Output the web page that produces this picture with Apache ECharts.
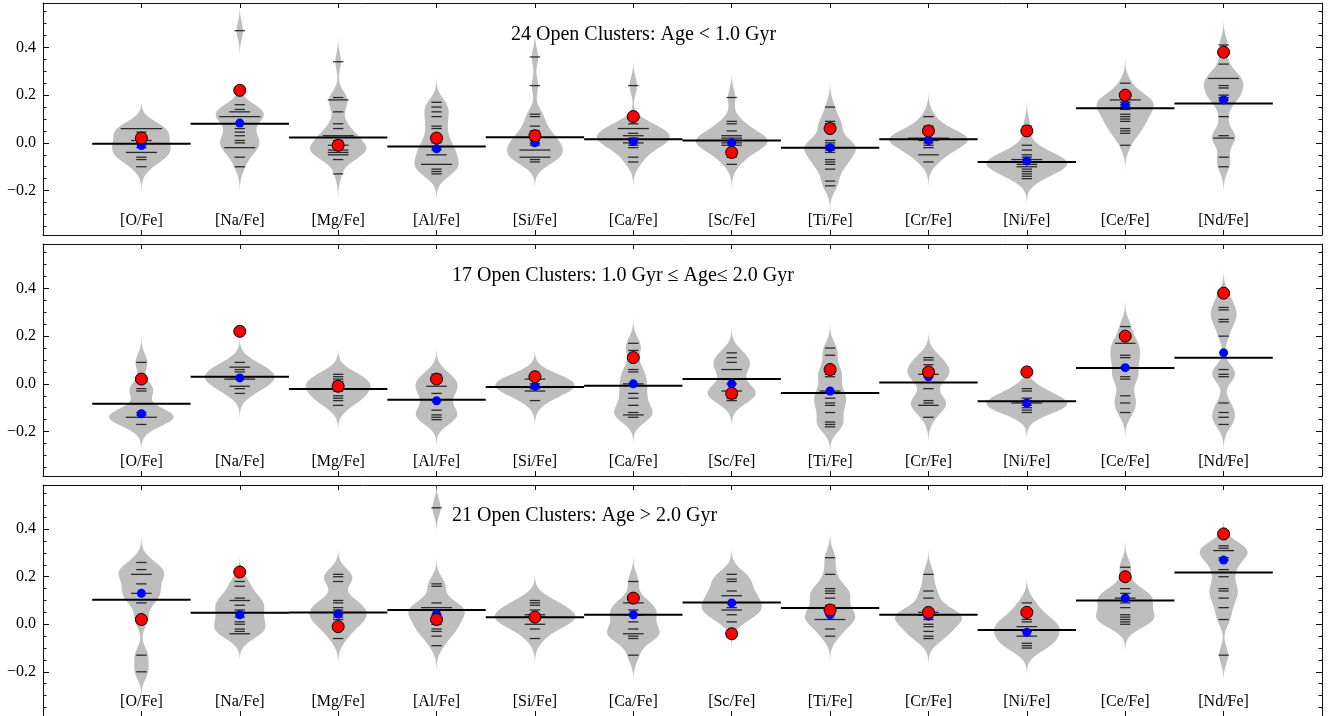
<!DOCTYPE html>
<html><head><meta charset="utf-8">
<script src="https://cdn.jsdelivr.net/npm/echarts@6/dist/echarts.min.js"></script>
<style>html,body{margin:0;padding:0;background:#fff}#c{width:1328px;height:716px}</style>
</head><body><div id="c"></div>
<script>
const categories = ['[O/Fe]','[Na/Fe]','[Mg/Fe]','[Al/Fe]','[Si/Fe]','[Ca/Fe]','[Sc/Fe]','[Ti/Fe]','[Cr/Fe]','[Ni/Fe]','[Ce/Fe]','[Nd/Fe]'];
const panelTitles = ['24 Open Clusters: Age < 1.0 Gyr','17 Open Clusters: 1.0 Gyr \u2264 Age\u2264 2.0 Gyr','21 Open Clusters: Age > 2.0 Gyr'];
const yTickLabels = [-0.2, 0.0, 0.2, 0.4];
const yMinorTicks = [-0.35,-0.3,-0.25,-0.15,-0.1,-0.05,0.05,0.1,0.15,0.25,0.3,0.35,0.45,0.5,0.55];
const referenceValues = [0.02,0.22,-0.01,0.02,0.03,0.11,-0.04,0.06,0.05,0.05,0.20,0.38];

// Age < 1.0 Gyr
const youngValues = [
  [0.06,0.06,0.06,0.06,0.045,0.01,0.01,0.0,-0.02,-0.04,-0.04,-0.04,-0.06,-0.07,-0.10],
  [0.47,0.16,0.14,0.13,0.13,0.11,0.11,0.11,0.11,0.06,0.045,0.03,0.01,0.0,-0.02,-0.02,-0.02,-0.06,-0.10],
  [0.34,0.19,0.18,0.18,0.13,0.08,0.06,0.03,0.03,0.03,0.01,-0.01,-0.01,-0.02,-0.03,-0.03,-0.04,-0.04,-0.05,-0.05,-0.07,-0.13],
  [0.17,0.15,0.13,0.11,0.07,0.06,0.02,0.0,-0.02,-0.03,-0.05,-0.05,-0.09,-0.09,-0.09,-0.11,-0.12,-0.13],
  [0.36,0.24,0.12,0.11,0.07,0.05,0.03,0.02,0.01,0.0,-0.01,-0.03,-0.03,-0.03,-0.06,-0.06,-0.06,-0.07,-0.08],
  [0.24,0.08,0.06,0.06,0.06,0.04,0.03,0.03,0.02,0.01,0.0,0.0,-0.01,-0.02,-0.06,-0.08],
  [0.19,0.09,0.08,0.05,0.03,0.03,0.02,0.02,0.01,0.0,0.0,-0.01,-0.01,-0.03,-0.04,-0.06,-0.09],
  [0.15,0.09,0.08,0.06,0.01,0.0,-0.01,-0.02,-0.02,-0.03,-0.04,-0.07,-0.08,-0.09,-0.11,-0.16,-0.18],
  [0.11,0.07,0.05,0.04,0.02,0.02,0.02,0.02,0.01,0.01,0.0,-0.01,-0.02,-0.05,-0.05,-0.08],
  [0.07,-0.01,-0.03,-0.05,-0.06,-0.07,-0.07,-0.07,-0.08,-0.08,-0.09,-0.09,-0.10,-0.10,-0.11,-0.12,-0.13,-0.14,-0.15],
  [0.25,0.21,0.18,0.18,0.18,0.17,0.16,0.15,0.14,0.12,0.11,0.10,0.09,0.06,0.05,0.04,-0.01],
  [0.41,0.33,0.27,0.27,0.27,0.24,0.23,0.20,0.19,0.18,0.11,0.03,0.02,0.02,-0.06,-0.10]
];
const youngBlue = [-0.011,0.083,-0.01,-0.025,0.0,0.005,0.0,-0.02,0.01,-0.076,0.16,0.18];
const youngMean = [-0.004,0.08,0.022,-0.015,0.024,0.015,0.01,-0.02,0.015,-0.08,0.145,0.165];

// 1.0 - 2.0 Gyr
const midValues = [
  [0.09,-0.02,-0.03,-0.12,-0.13,-0.14,-0.14,-0.14,-0.17],
  [0.09,0.07,0.07,0.06,0.05,0.03,0.03,0.02,0.02,0.02,-0.01,-0.01,-0.02,-0.04],
  [0.04,0.03,0.02,0.01,0.0,-0.01,-0.02,-0.03,-0.05,-0.06,-0.07,-0.09],
  [0.04,0.02,-0.01,-0.01,-0.04,-0.07,-0.11,-0.13,-0.14,-0.15],
  [0.03,0.02,0.02,0.0,-0.01,-0.02,-0.03,-0.03,-0.07],
  [0.17,0.14,0.06,0.05,0.0,0.0,-0.04,-0.06,-0.09,-0.12,-0.13,-0.13,-0.14],
  [0.13,0.11,0.09,0.06,0.06,0.0,-0.03,-0.03,-0.04,-0.06,-0.07],
  [0.15,0.12,0.06,0.04,0.03,-0.03,-0.03,-0.06,-0.08,-0.09,-0.12,-0.16,-0.17,-0.18],
  [0.11,0.10,0.08,0.05,0.04,0.04,0.03,-0.02,-0.07,-0.08,-0.09,-0.09,-0.14],
  [-0.02,-0.03,-0.06,-0.07,-0.08,-0.08,-0.08,-0.09,-0.10,-0.11,-0.12],
  [0.24,0.17,0.17,0.12,0.11,0.07,0.03,0.02,-0.05,-0.08,-0.12],
  [0.37,0.32,0.31,0.27,0.26,0.20,0.06,0.04,0.03,-0.08,-0.12,-0.14,-0.17]
];
const midBlue = [-0.125,0.025,-0.012,-0.071,-0.01,0.0,0.0,-0.03,0.03,-0.08,0.068,0.13];
const midMean = [-0.083,0.03,-0.022,-0.067,-0.013,-0.008,0.02,-0.038,0.006,-0.073,0.067,0.109];

// Age > 2.0 Gyr
const oldValues = [
  [0.26,0.23,0.21,0.21,0.17,0.13,0.13,0.09,0.02,-0.13,-0.20],
  [0.18,0.16,0.11,0.10,0.10,0.08,0.06,0.05,0.03,0.01,0.0,-0.02,-0.03,-0.04,-0.04],
  [0.21,0.20,0.18,0.10,0.09,0.07,0.06,0.04,0.03,0.02,0.0,-0.02,-0.06],
  [0.49,0.17,0.16,0.09,0.07,0.07,0.07,0.06,0.04,0.03,0.01,0.0,-0.02,-0.03,-0.05,-0.09],
  [0.10,0.09,0.08,0.06,0.04,0.04,0.03,0.03,0.02,0.0,0.0,-0.02,-0.06],
  [0.18,0.09,0.09,0.06,0.04,0.04,0.01,-0.02,-0.04,-0.04,-0.05,-0.06,-0.13],
  [0.21,0.19,0.18,0.14,0.12,0.12,0.09,0.07,0.06,0.06,0.04,0.01],
  [0.28,0.21,0.15,0.14,0.13,0.11,0.08,0.06,0.04,0.02,0.02,0.02,-0.02,-0.05],
  [0.21,0.14,0.11,0.05,0.05,0.04,0.04,0.03,0.02,0.0,-0.01,-0.03,-0.05,-0.06],
  [0.09,0.05,0.02,0.01,-0.01,-0.01,-0.03,-0.05,-0.05,-0.08,-0.09,-0.10],
  [0.24,0.15,0.13,0.11,0.11,0.09,0.07,0.04,0.03,0.02,0.01,0.0],
  [0.33,0.32,0.31,0.31,0.28,0.27,0.23,0.20,0.15,0.14,0.11,0.07,0.02,-0.13]
];
const oldBlue = [0.13,0.04,0.043,0.043,0.03,0.04,0.09,0.04,0.034,-0.034,0.11,0.27];
const oldMean = [0.103,0.048,0.05,0.06,0.03,0.04,0.092,0.068,0.04,-0.024,0.1,0.218];

const panels = [
  {values: youngValues, blue: youngBlue, mean: youngMean, title: panelTitles[0]},
  {values: midValues, blue: midBlue, mean: midMean, title: panelTitles[1]},
  {values: oldValues, blue: oldBlue, mean: oldMean, title: panelTitles[2]}
];

const BW = 0.035, CUT = 3, MAXHALF = 0.41, LINE_UNIT = 0.105;
const FONT = 'Liberation Serif, DejaVu Serif, serif';
const Y_MIN = -0.386, Y_MAX = 0.586;
const gridTops = [3, 244, 485], gridH = 232;

function kde(vals, y) {
  let s = 0;
  for (const v of vals) { const z = (y - v) / BW; s += Math.exp(-0.5 * z * z); }
  return s / (vals.length * BW * Math.sqrt(2 * Math.PI));
}
function beanProfile(vals) {
  const lo = Math.min(...vals) - CUT * BW, hi = Math.max(...vals) + CUT * BW;
  const N = 160, pts = [];
  for (let i = 0; i <= N; i++) { const y = lo + (hi - lo) * i / N; pts.push([y, kde(vals, y)]); }
  return pts;
}

const fmtY = v => (v < 0 ? '\u2212' : '') + Math.abs(v).toFixed(1);
const xPositions = categories.map((c, i) => i + 1);

const grid = [], xAxis = [], yAxis = [], series = [], title = [];
panels.forEach((p, g) => {
  grid.push({left: 43, right: 6, top: gridTops[g], height: gridH});
  const axLine = {show: true, onZero: false, lineStyle: {color: '#111', width: 1}};
  ['bottom', 'top'].forEach(pos => {
    xAxis.push({
      type: 'value', gridIndex: g, position: pos, min: 0, max: 13,
      axisLine: axLine, splitLine: {show: false},
      axisTick: {show: true, inside: true, length: 5, customValues: xPositions, lineStyle: {color: '#111'}},
      axisLabel: pos === 'bottom' ? {show: true, inside: true, margin: 6, customValues: xPositions,
        formatter: v => categories[Math.round(v) - 1], fontFamily: FONT, fontSize: 16, color: '#000'} : {show: false}
    });
  });
  ['left', 'right'].forEach(pos => {
    yAxis.push({
      type: 'value', gridIndex: g, position: pos, min: Y_MIN, max: Y_MAX,
      axisLine: axLine, splitLine: {show: false},
      axisTick: {show: true, inside: true, length: 6, customValues: yTickLabels, lineStyle: {color: '#111'}},
      axisLabel: pos === 'left' ? {show: true, margin: 7, customValues: yTickLabels, formatter: fmtY,
        fontFamily: FONT, fontSize: 16, color: '#000'} : {show: false}
    });
    yAxis.push({
      type: 'value', gridIndex: g, position: pos, min: Y_MIN, max: Y_MAX,
      axisLine: {show: false, onZero: false}, splitLine: {show: false}, axisLabel: {show: false},
      axisTick: {show: true, inside: true, length: 3.5, customValues: yMinorTicks, lineStyle: {color: '#111'}}
    });
  });
  const xi = 2 * g, yi = 4 * g;
  const profiles = p.values.map(beanProfile);
  let maxD = 0;
  profiles.forEach(pr => pr.forEach(q => { if (q[1] > maxD) maxD = q[1]; }));
  const scale = MAXHALF / maxD;

  series.push({
    type: 'custom', xAxisIndex: xi, yAxisIndex: yi, z: 1, clip: true, silent: true,
    data: xPositions.map((x, i) => [x, i]),
    renderItem: (params, api) => {
      const x = api.value(0), i = api.value(1);
      const pr = profiles[i];
      const right = pr.map(q => api.coord([x + q[1] * scale, q[0]]));
      const left = pr.slice().reverse().map(q => api.coord([x - q[1] * scale, q[0]]));
      return {type: 'polygon', shape: {points: right.concat(left)}, style: {fill: '#bebebe', stroke: null}};
    }
  });

  const lineData = [];
  p.values.forEach((vals, i) => {
    const counts = {};
    vals.forEach(v => { const k = v.toFixed(3); counts[k] = (counts[k] || 0) + 1; });
    Object.keys(counts).forEach(k => lineData.push([i + 1, parseFloat(k), counts[k]]));
  });
  series.push({
    type: 'custom', xAxisIndex: xi, yAxisIndex: yi, z: 2, silent: true, data: lineData,
    renderItem: (params, api) => {
      const x = api.value(0), y = api.value(1), c = api.value(2);
      const half = LINE_UNIT * c / 2;
      const a = api.coord([x - half, y]), b = api.coord([x + half, y]);
      return {type: 'line', shape: {x1: a[0], y1: a[1], x2: b[0], y2: b[1]}, style: {stroke: 'rgba(0,0,0,0.78)', lineWidth: 1.3}};
    }
  });

  series.push({
    type: 'custom', xAxisIndex: xi, yAxisIndex: yi, z: 3, silent: true,
    data: p.mean.map((m, i) => [i + 1, m]),
    renderItem: (params, api) => {
      const x = api.value(0), y = api.value(1);
      const a = api.coord([x - 0.5, y]), b = api.coord([x + 0.5, y]);
      return {type: 'line', shape: {x1: a[0], y1: a[1], x2: b[0], y2: b[1]}, style: {stroke: '#000', lineWidth: 2}};
    }
  });
  series.push({
    type: 'scatter', xAxisIndex: xi, yAxisIndex: yi, z: 4, silent: true, symbolSize: 9,
    itemStyle: {color: '#0000ff', opacity: 1}, data: p.blue.map((v, i) => [i + 1, v])
  });
  series.push({
    type: 'scatter', xAxisIndex: xi, yAxisIndex: yi, z: 5, silent: true, symbolSize: 12,
    itemStyle: {color: '#ff0000', borderColor: '#000', borderWidth: 1, opacity: 1},
    data: referenceValues.map((v, i) => [i + 1, v])
  });
});

title.push({text: panelTitles[0], left: 511, top: 25});
title.push({text: panelTitles[1], left: 452, top: 266});
title.push({text: panelTitles[2], left: 452, top: 506});
title.forEach(t => { t.padding = 0; t.textStyle = {fontFamily: FONT, fontSize: 20, fontWeight: 'normal', color: '#000'}; });

const chart = echarts.init(document.getElementById('c'), null, {renderer: 'canvas'});
chart.setOption({animation: false, backgroundColor: '#fff', title, grid, xAxis, yAxis, series});
</script>
</body></html>
